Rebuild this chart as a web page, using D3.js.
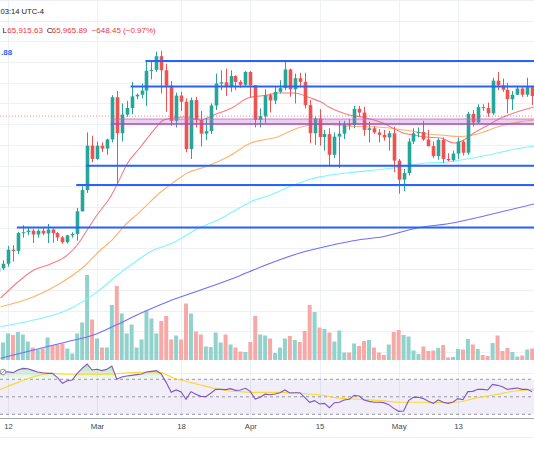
<!DOCTYPE html>
<html>
<head>
<meta charset="utf-8">
<script src="https://cdn.jsdelivr.net/npm/d3@7"></script>
<style>
  body { margin: 0; background: #fff; }
  svg { display: block; font-family: "Liberation Sans", Arial, sans-serif; }
</style>
</head>
<body>
<div id="chart"></div>
<script>
// daily candles, first one is Feb 10 2024 (UTC-4 session)
let firstDay = "2024-02-10";

let opens  = [47150,47600,48150,49850,49700,51850,51950,52150,51680,52130,51800,52280,51850,51330,50750,51580,51750,54480,57050,62400,60800,62400,62050,63150,68250,63900,66150,66950,68350,68550,69050,71450,71550,73200,71500,69650,65400,68450,67700,62000,67900,65500,63850,64150,67250,69900,70050,69500,70800,70100,69750,71300,69700,65500,65950,68500,67850,68900,69350,71600,69200,70550,70100,67300,63900,65700,63450,63800,61300,63500,63850,64950,64900,66850,66400,64300,64500,64000,63700,63400,63900,60600,58300,59100,62900,63900,64050,63150,62350,61150,63100,60800,60650,61450,62900,61550,66250,65200,67050,66950,66300,70250,69700,69150,68000,68550,69300,68550,69450];
let highs  = [48150,48550,50300,50400,52000,52800,52550,52350,52300,52500,52950,52400,52000,51500,51650,51950,54900,57500,64000,63600,62900,62800,63250,68500,69000,67500,67800,70100,68700,69900,72700,72600,73750,73850,72300,70200,68800,68900,68100,68200,68300,66600,65800,67500,71100,71500,71700,71500,70900,70300,71400,71400,69700,66900,69200,68700,69500,70300,72700,71700,71100,71200,71200,67900,65900,66800,64300,64500,64000,65400,65400,65600,67200,67200,67100,65300,64800,64400,64300,64200,64700,60800,59600,63300,64500,64600,65400,64300,62900,63300,63400,61500,61800,63400,63100,66500,66700,67400,67400,67600,70600,71300,70500,70000,69000,69500,69500,70600,69600];
let lows   = [46900,47400,47800,48400,49300,51300,51600,50650,51300,51600,50650,50700,50900,50550,50600,51300,50950,54450,56700,60400,60700,61650,61300,62800,57700,62900,65900,66200,68000,68100,67200,70400,71300,68700,66500,64800,64600,66600,61600,60800,64600,62300,63100,63800,66700,69100,68400,68900,69100,69400,69600,68200,64600,64600,65100,66400,67400,68700,69100,68300,67500,69600,66900,62700,62500,62400,61800,59900,60900,59700,63200,64300,64500,65900,63600,62800,63800,62800,63000,61800,59200,56600,56900,58800,62600,63400,63000,62300,60900,60700,60300,60500,60500,60800,61200,61300,64700,65100,66600,65900,66100,69100,68900,66300,66700,68500,68300,68300,67300];
let closes = [47600,48150,49850,49700,51850,51950,52150,51680,52130,51800,52280,51850,51330,50750,51580,51750,54480,57050,62400,60800,62400,62050,63150,68250,63900,66150,66950,68350,68550,69050,71450,71550,73200,71500,69650,65400,68450,67700,62000,67900,65500,63850,64150,67250,69900,70050,69500,70800,70100,69750,71300,69700,65500,65950,68500,67850,68900,69350,71600,69200,70550,70100,67300,63900,65700,63450,63800,61300,63500,63850,64950,64900,66850,66400,64300,64500,64000,63700,63400,63900,60600,58300,59100,62900,63900,64050,63150,62350,61150,63100,60800,60650,61450,62900,61550,66250,65200,67050,66950,66300,70250,69700,69150,68000,68550,69300,68550,69450,68400];
let volumes = [30,35,53,50,56,51,37,25,21,23,45,30,31,33,23,13,53,75,170,81,43,25,25,110,148,93,53,71,25,41,99,83,53,78,88,41,49,41,113,93,57,51,27,26,55,35,51,31,25,17,16,36,88,51,49,43,14,25,43,48,40,36,58,110,96,65,62,55,37,59,15,15,33,28,38,40,25,15,10,31,56,60,50,47,19,12,27,18,19,24,30,5,6,22,21,42,31,22,10,8,34,49,18,24,16,7,9,21,23];
let rsiValues = [77.6,78.3,78.7,77.6,80.6,82.5,82.1,80.2,78.3,77.4,76.8,76.8,72,65.4,68.4,69.2,76.8,82.5,87.5,80.6,81.4,79.9,81.4,85.2,70,72.6,73.8,74.5,75.3,76.1,78.3,79.1,79.9,76.1,66.2,55.1,57.8,55.5,47.1,55.9,52.8,50.5,50.2,54,58.5,58.5,58.2,59.3,57.4,57.8,59.7,56.2,47.5,49.4,53,52.4,53.2,54.7,57.8,54.3,54.7,54.7,49.4,43.7,45.6,41.8,42.5,37.6,43.3,43.7,46.4,47.1,51.7,50.9,46.4,44.8,43.7,43.7,43.3,41,36.8,33.4,33.8,45.6,49.4,49.4,47.9,44.8,42.5,46.4,43.7,42.5,44.1,47.9,46.7,55.9,56.2,58.5,58.5,57.8,64.2,63.1,61.6,58.5,59.3,60.1,58.5,58.5,55.9];

// moving averages, days counted from Feb 12
let ma20Days = [-1.5,2.5,5.2,8.6,12,14,16,18,20.7,22,24.2,26.8,29.5,31.5,33.5,35.5,39,41.6,45.6,48.5,52.5,54.6,57.8,61.2,63.3,64.9,68.3,72.4,75.8,77.8,79.9,81.9,84.5,87.5,90.2,92.2,94.2,97.1,99.7,102.3,106.4];
let ma20Vals = [44010,46190,47390,48120,49200,50410,52220,54030,56200,57650,60310,62240,64290,65500,65740,65860,65500,66100,67070,68150,68520,68760,68760,68150,67670,67070,66220,65740,65140,64530,63930,63690,63450,63330,62720,63090,63930,64900,65740,66340,67070];
let ma50Days = [-1.5,5.2,10.6,15.3,18.7,20.7,24.1,26.4,30.9,33.3,36.3,40.4,44.4,49.1,54.6,58.6,63.3,68.3,75.4,81.5,84.9,87.5,91.6,95,99.1,103.7,106.4];
let ma50Vals = [42960,44170,45800,47790,49810,50810,53070,54270,56810,57900,59100,59950,61030,62720,63480,64530,65020,64780,64620,64170,63810,63690,63510,63810,64690,65300,65500];
let ma100Days = [-1.5,5.2,12,18.1,21.4,25.4,28.8,33.3,38.6,42,45,49.1,53.1,57.8,61.2,63.3,68.9,75.8,79.9,84.5,87.5,91.6,97.1,102.3,106.4];
let ma100Vals = [40550,41360,42570,44780,46430,48240,49600,50650,52460,53310,54270,55640,56450,57650,58380,58660,59140,59550,59860,60310,60350,60670,61270,61960,62360];
let ma200Days = [-1.5,5.2,12,17.3,21.4,26.8,32.3,39,45.6,51.1,59.2,64.7,70.8,75.8,82.5,90.2,97.1,106.4];
let ma200Vals = [36740,37740,38740,39550,40630,42170,43570,44980,46390,47760,49480,50290,51020,51410,52430,53100,54030,55360];
let rsiMaDays = [-2,1.9,5.2,8.6,12,18.7,25.5,28.8,30.9,33.6,36.3,38.9,41.7,44.4,47,49.8,55.2,59.2,63.2,67.3,71.4,75.4,79.5,83.5,87.6,91.6,94.3,98.3,102.4,106.4];
let rsiMaVals = [57.4,66.2,73,76.8,75.7,75.7,77.6,78.3,77.6,71.1,67.3,63.5,59.7,57,55.9,55.1,55.1,54,52,48.2,47.1,45.6,43.7,43.7,43.3,44.4,48.2,52,56.6,58.5];

// drawn levels and zone
let levelPrices = [72620, 69540, 59980, 57650, 52520];
let levelStartDays = [28, 25, 16, 14, 2];
let zoneTop = 65620, zoneBottom = 65020, zoneStartDay = 21;
let lastPrice = 65965.89;

// time axis
let tickDates = ["2024-02-12","2024-03-01","2024-03-18","2024-04-01","2024-04-15","2024-05-01","2024-05-13"];
let tickLabels = ["12","Mar","18","Apr","15","May","13"];

let W = 534, H = 462;
let green = "#26a69a", red = "#ef5350";
let parse = d3.utcParse("%Y-%m-%d");
let base = parse("2024-02-12");
let dayAt = (d) => new Date(base.getTime() + d * 864e5);

let candles = opens.map((o, i) => ({
  date: d3.utcDay.offset(parse(firstDay), i),
  o: o, h: highs[i], l: lows[i], c: closes[i], v: volumes[i], rsi: rsiValues[i]
}));

let x = d3.scaleUtc().domain([parse("2024-02-12"), parse("2024-05-13")]).range([8, 458]);
let y = d3.scaleLinear().domain([72500, 37500]).range([62, 352]);
let yVol = d3.scaleLinear().domain([0, 170]).range([360, 275]);
let yRsi = d3.scaleLinear().domain([30, 70]).range([414.3, 379.3]);

let svg = d3.select("#chart").append("svg").attr("width", W).attr("height", H);
let defs = svg.append("defs");
defs.append("clipPath").attr("id", "clipMain").append("rect").attr("x", 0).attr("y", 0).attr("width", W).attr("height", 361);
defs.append("clipPath").attr("id", "clipRsi").append("rect").attr("x", 0).attr("y", 361).attr("width", W).attr("height", 57);
defs.append("clipPath").attr("id", "clipOb").append("rect").attr("x", 0).attr("y", 361).attr("width", W).attr("height", yRsi(70) - 361);
let grad = defs.append("linearGradient").attr("id", "obGrad")
  .attr("gradientUnits", "userSpaceOnUse").attr("x1", 0).attr("x2", 0).attr("y1", 362).attr("y2", yRsi(70));
grad.append("stop").attr("offset", "0%").attr("stop-color", "#4caf50").attr("stop-opacity", 0.45);
grad.append("stop").attr("offset", "100%").attr("stop-color", "#4caf50").attr("stop-opacity", 0.06);

// grid
let grid = svg.append("g");
grid.selectAll("line.h").data(d3.range(35000, 80001, 2500)).enter().append("line")
  .attr("x1", 0).attr("x2", W)
  .attr("y1", (d) => Math.round(y(d)) + 0.5).attr("y2", (d) => Math.round(y(d)) + 0.5)
  .attr("stroke", "#edf0f5");
grid.selectAll("line.v").data(tickDates).enter().append("line")
  .attr("x1", (d) => Math.round(x(parse(d))) + 0.5).attr("x2", (d) => Math.round(x(parse(d))) + 0.5)
  .attr("y1", 0).attr("y2", 418)
  .attr("stroke", "#edf0f5");

let main = svg.append("g").attr("clip-path", "url(#clipMain)");

// volume
main.append("g").selectAll("rect").data(candles).enter().append("rect")
  .attr("x", (d) => x(d.date) - 2)
  .attr("width", 4)
  .attr("y", (d) => yVol(d.v))
  .attr("height", (d) => 360 - yVol(d.v))
  .attr("fill", (d) => d.c >= d.o ? "#92d2cc" : "#f7a9a7");

// moving averages
let maLine = d3.line().x((d) => x(dayAt(d[0]))).y((d) => y(d[1])).curve(d3.curveMonotoneX);
let mas = [
  [ma200Days, ma200Vals, "#6f6ff7"],
  [ma100Days, ma100Vals, "#7df5ff"],
  [ma50Days, ma50Vals, "#ffb26b"],
  [ma20Days, ma20Vals, "#f77c80"]
];
mas.forEach((m) => {
  main.append("path")
    .datum(m[0].map((d, i) => [d, m[1][i]]))
    .attr("d", maLine)
    .attr("fill", "none")
    .attr("stroke", m[2])
    .attr("stroke-width", 1.1);
});

// candles
let cg = main.append("g");
cg.selectAll("line").data(candles).enter().append("line")
  .attr("x1", (d) => Math.round(x(d.date)) + 0.5).attr("x2", (d) => Math.round(x(d.date)) + 0.5)
  .attr("y1", (d) => y(d.h)).attr("y2", (d) => y(d.l))
  .attr("stroke", (d) => d.c >= d.o ? green : red);
cg.selectAll("rect").data(candles).enter().append("rect")
  .attr("x", (d) => Math.round(x(d.date)) + 0.5 - 1.8)
  .attr("width", 3.6)
  .attr("y", (d) => y(Math.max(d.o, d.c)))
  .attr("height", (d) => Math.max(1, Math.abs(y(d.o) - y(d.c))))
  .attr("fill", (d) => d.c >= d.o ? green : red);

// last price line
main.append("line")
  .attr("x1", 0).attr("x2", W)
  .attr("y1", y(lastPrice)).attr("y2", y(lastPrice))
  .attr("stroke", "#f23645").attr("stroke-opacity", 0.6)
  .attr("stroke-dasharray", "1,2");

// zone
let zx = x(dayAt(zoneStartDay)) - 1;
main.append("rect")
  .attr("x", zx).attr("width", W - zx)
  .attr("y", y(zoneTop)).attr("height", y(zoneBottom) - y(zoneTop))
  .attr("fill", "#ba68c8").attr("fill-opacity", 0.3);
main.append("line").attr("x1", zx).attr("x2", W).attr("y1", y(zoneTop)).attr("y2", y(zoneTop))
  .attr("stroke", "#ba68c8").attr("stroke-width", 0.8);
main.append("line").attr("x1", zx).attr("x2", W).attr("y1", y(zoneBottom)).attr("y2", y(zoneBottom))
  .attr("stroke", "#ab47bc").attr("stroke-width", 1.5);

// horizontal levels
main.append("g").selectAll("line").data(levelPrices).enter().append("line")
  .attr("x1", (d, i) => x(dayAt(levelStartDays[i])) - 1)
  .attr("x2", W)
  .attr("y1", (d) => y(d)).attr("y2", (d) => y(d))
  .attr("stroke", "#2962ff").attr("stroke-width", 2);

// RSI pane
let rsiG = svg.append("g").attr("clip-path", "url(#clipRsi)");
rsiG.append("rect").attr("x", 0).attr("width", W)
  .attr("y", yRsi(70)).attr("height", yRsi(30) - yRsi(70))
  .attr("fill", "#7e57c2").attr("fill-opacity", 0.1);
rsiG.selectAll("line.band").data([70, 50, 30]).enter().append("line")
  .attr("x1", 0).attr("x2", W)
  .attr("y1", (d) => yRsi(d)).attr("y2", (d) => yRsi(d))
  .attr("stroke", "#9598a1").attr("stroke-dasharray", "3,3");
let obArea = d3.area().x((d) => x(d.date)).y0(yRsi(70)).y1((d) => yRsi(d.rsi));
rsiG.append("path").datum(candles).attr("d", obArea)
  .attr("clip-path", "url(#clipOb)")
  .attr("fill", "url(#obGrad)");
rsiG.append("path")
  .datum(rsiMaDays.map((d, i) => [d, rsiMaVals[i]]))
  .attr("d", d3.line().x((d) => x(dayAt(d[0]))).y((d) => yRsi(d[1])).curve(d3.curveMonotoneX))
  .attr("fill", "none").attr("stroke", "#fdd835").attr("stroke-width", 1.1);
rsiG.append("path").datum(candles)
  .attr("d", d3.line().x((d) => x(d.date)).y((d) => yRsi(d.rsi)))
  .attr("fill", "none").attr("stroke", "#7e57c2").attr("stroke-width", 1.1);
// little hidden-indicator icon
rsiG.append("circle").attr("cx", 3).attr("cy", 372).attr("r", 2.8)
  .attr("fill", "#fff").attr("stroke", "#787b86").attr("stroke-width", 0.8);
rsiG.append("line").attr("x1", 1).attr("y1", 374).attr("x2", 5).attr("y2", 370)
  .attr("stroke", "#787b86").attr("stroke-width", 0.8);

// time axis
svg.append("line").attr("x1", 0).attr("x2", W).attr("y1", 418.5).attr("y2", 418.5).attr("stroke", "#a3a6af");
svg.append("line").attr("x1", 0).attr("x2", W).attr("y1", 437.5).attr("y2", 437.5).attr("stroke", "#eef0f3");
let axis = d3.axisBottom(x)
  .tickValues(tickDates.map(parse))
  .tickFormat((d, i) => tickLabels[i])
  .tickSize(0).tickPadding(0);
let ax = svg.append("g").attr("transform", "translate(0,423)").call(axis);
ax.select(".domain").remove();
ax.selectAll("text").attr("font-size", 7.8).attr("fill", "#434651")
  .attr("font-family", "'Liberation Sans', Arial, sans-serif").attr("dy", "0.71em");

// legend texts
let txt = svg.append("g").attr("font-size", 8);
txt.append("text").attr("x", 0.5).attr("y", 14).attr("font-size", 7.6)
  .attr("fill", "#131722").text("03:14 UTC-4");
let leg = [["L", 2.4, "#131722"], ["65,915.63", 7.3, "#f23645"], ["C", 46.8, "#131722"],
           ["65,965.89", 51.7, "#f23645"], ["\u2212648.45 (\u22120.97%)", 91.7, "#f23645"]];
txt.selectAll("text.leg").data(leg).enter().append("text")
  .attr("x", (d) => d[1]).attr("y", 32.5).attr("fill", (d) => d[2]).text((d) => d[0]);
txt.append("text").attr("x", 1).attr("y", 54.5)
  .attr("fill", "#2962ff").attr("font-weight", "bold").text(".88");
</script>
</body>
</html>
